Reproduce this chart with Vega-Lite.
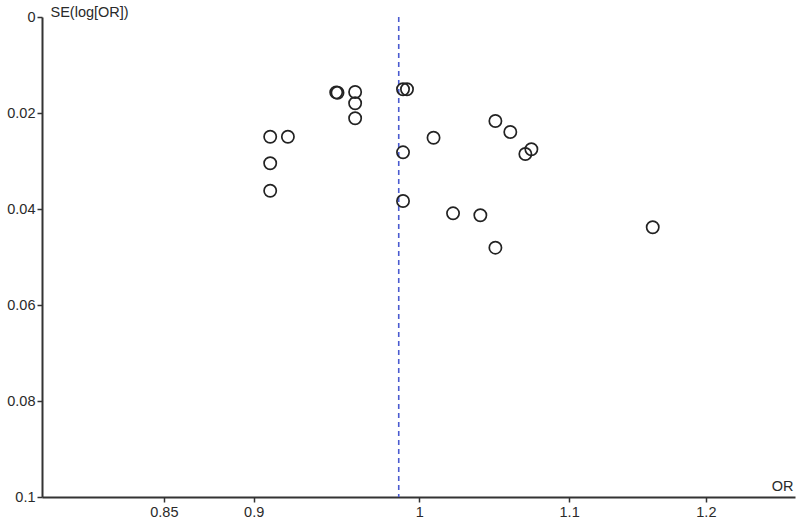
{
  "$schema": "https://vega.github.io/schema/vega-lite/v6.json",
  "width": 753,
  "height": 480,
  "autosize": {"type": "none"},
  "padding": {"left": 42, "top": 17, "right": 5, "bottom": 26},
  "background": "white",
  "config": {
    "view": {"stroke": null},
    "font": "Liberation Sans",
    "axis": {
      "grid": false,
      "domainColor": "#333",
      "domainWidth": 2,
      "tickColor": "#333",
      "tickWidth": 1.5,
      "tickSize": 5,
      "labelColor": "#2a2a2a",
      "labelFontSize": 14.5,
      "labelFont": "Liberation Sans",
      "titleFont": "Liberation Sans",
      "titleFontWeight": "normal",
      "titleFontSize": 14.5,
      "titleColor": "#2a2a2a"
    }
  },
  "data": {
    "values": [
      {"OR": 0.9493, "SE": 0.01577},
      {"OR": 0.9485, "SE": 0.0157},
      {"OR": 0.960, "SE": 0.01563},
      {"OR": 0.960, "SE": 0.01798},
      {"OR": 0.960, "SE": 0.0211},
      {"OR": 0.9095, "SE": 0.02494},
      {"OR": 0.9198, "SE": 0.02494},
      {"OR": 0.9095, "SE": 0.03048},
      {"OR": 0.9095, "SE": 0.03619},
      {"OR": 0.9897, "SE": 0.01506},
      {"OR": 0.9922, "SE": 0.01506},
      {"OR": 0.9897, "SE": 0.02819},
      {"OR": 1.0091, "SE": 0.02515},
      {"OR": 0.9897, "SE": 0.03833},
      {"OR": 1.0217, "SE": 0.0409},
      {"OR": 1.0496, "SE": 0.02167},
      {"OR": 1.0596, "SE": 0.02396},
      {"OR": 1.0698, "SE": 0.02854},
      {"OR": 1.0739, "SE": 0.02756},
      {"OR": 1.0396, "SE": 0.04131},
      {"OR": 1.0496, "SE": 0.04806},
      {"OR": 1.1601, "SE": 0.04381}
    ]
  },
  "layer": [
    {
      "data": {"values": [{"pooled": 0.987}]},
      "mark": {"type": "rule", "color": "#4a5bd0", "strokeDash": [5, 4], "strokeWidth": 1.6},
      "encoding": {
        "x": {"field": "pooled", "type": "quantitative", "scale": {"type": "log", "domain": [0.7866, 1.27]}}
      }
    },
    {
      "mark": {"type": "point", "shape": "circle", "filled": false, "size": 150, "stroke": "#222", "strokeWidth": 1.7, "opacity": 1},
      "encoding": {
        "x": {
          "field": "OR",
          "type": "quantitative",
          "scale": {"type": "log", "domain": [0.7866, 1.27], "nice": false, "zero": false},
          "axis": {
            "values": [0.85, 0.9, 1, 1.1, 1.2],
            "labelExpr": "format(datum.value, '~g')",
            "labelPadding": 3,
            "title": "OR",
            "titleX": 751,
            "titleY": -11,
            "titleAlign": "right",
            "titleBaseline": "middle"
          }
        },
        "y": {
          "field": "SE",
          "type": "quantitative",
          "scale": {"domain": [0, 0.1], "reverse": true, "nice": false},
          "axis": {
            "values": [0, 0.02, 0.04, 0.06, 0.08, 0.1],
            "format": "~g",
            "labelPadding": 2,
            "title": "SE(log[OR])",
            "titleAngle": 0,
            "titleX": 8,
            "titleY": -5,
            "titleAlign": "left",
            "titleBaseline": "middle"
          }
        }
      }
    }
  ]
}
